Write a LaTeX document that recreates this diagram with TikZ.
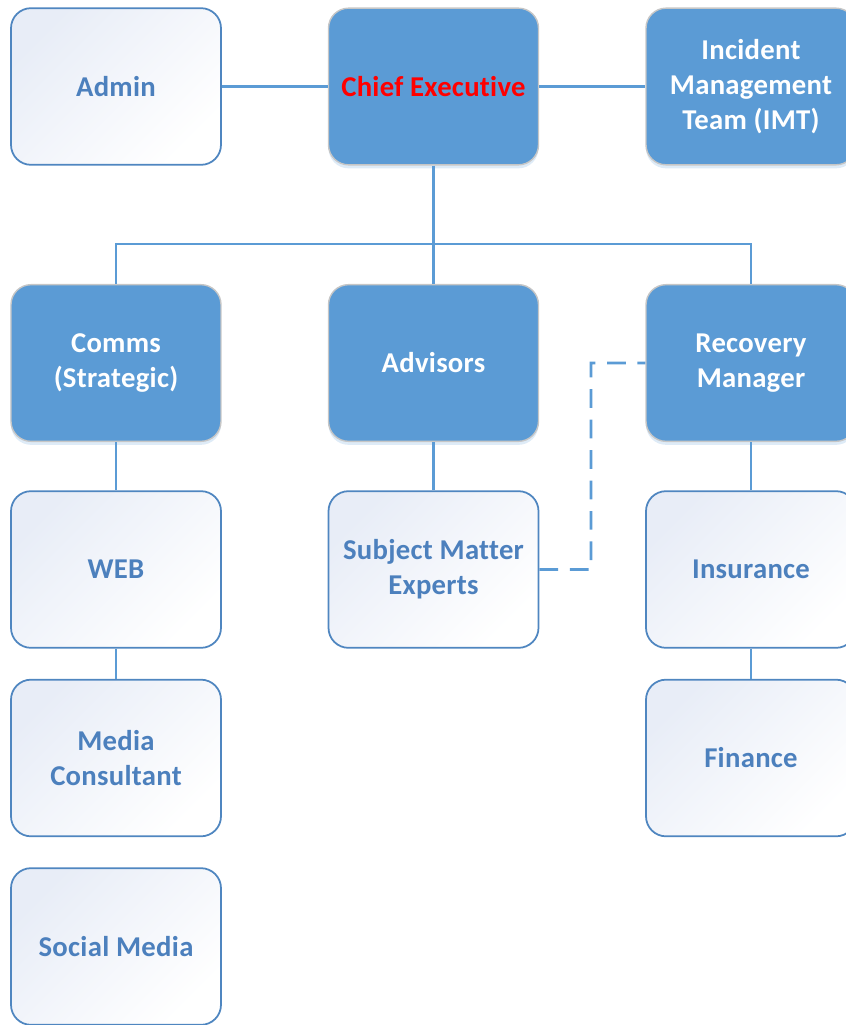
\documentclass[tikz,border=0pt]{standalone}
\usepackage{fontspec}
\setmainfont[Ligatures=NoCommon, LetterSpace=1]{Carlito}
\usepackage{tikz}
\usetikzlibrary{calc, shadows}
\definecolor{boxblue}{RGB}{91,155,213}
\definecolor{edgeblue}{RGB}{79,134,192}
\definecolor{textblue}{RGB}{76,128,189}
\definecolor{tintblue}{RGB}{232,237,247}
\newcommand{\boxfont}{\fontsize{24.5pt}{30pt}\selectfont\bfseries}
\tikzstyle{dark} = [rectangle, rounded corners=0.6cm, minimum width=6.3cm, minimum height=4.7cm, text centered, align=center, draw=gray!45, line width=1.2pt, fill=boxblue, text=white, font=\boxfont, drop shadow={shadow xshift=0pt, shadow yshift=-3pt, fill=boxblue!50, opacity=0.4}]
\tikzstyle{light} = [rectangle, rounded corners=0.6cm, minimum width=6.3cm, minimum height=4.7cm, text centered, align=center, draw=edgeblue, line width=1.5pt, top color=tintblue, bottom color=white, shading angle=45, text=textblue, font=\boxfont]
\tikzstyle{line} = [draw=boxblue, line width=2.4pt]
\tikzstyle{dashline} = [draw=boxblue, line width=2.4pt, dash pattern=on 16pt off 10pt]

\begin{document}
\begin{tikzpicture}[node distance=5.655cm]
\useasboundingbox (-13.005,2.595) rectangle (12.375,-28.155);
\node (ceo) [dark, text=red] {Chief Executive};
\node (admin) [light, left of=ceo, xshift=-3.87cm] {Admin};
\node (imt) [dark, right of=ceo, xshift=3.87cm] {Incident\\Management\\Team (IMT)};
\node (advisors) [dark, below of=ceo, yshift=-2.64cm] {Advisors};
\node (comms) [dark, left of=advisors, xshift=-3.87cm] {Comms\\(Strategic)};
\node (recovery) [dark, right of=advisors, xshift=3.87cm] {Recovery\\Manager};
\node (sme) [light, below of=advisors, yshift=-0.54cm] {Subject Matter\\Experts};
\node (web) [light, below of=comms, yshift=-0.54cm] {WEB};
\node (insurance) [light, below of=recovery, yshift=-0.54cm] {Insurance};
\node (media) [light, below of=web] {Media\\Consultant};
\node (finance) [light, below of=insurance] {Finance};
\node (social) [light, below of=media] {Social Media};
\coordinate (bus) at (0,-4.725);
\coordinate (elbow) at (4.725,-14.49);

\draw [line] (admin) -- (ceo);
\draw [line] (ceo) -- (imt);
\draw [line] (ceo) -- (advisors);
\draw [line] (comms) |- (bus) -| (recovery);
\draw [line] (comms) -- (web);
\draw [line] (web) -- (media);
\draw [line] (advisors) -- (sme);
\draw [line] (recovery) -- (insurance);
\draw [line] (insurance) -- (finance);
\draw [dashline] (sme) -- (elbow) |- (recovery.west);
\end{tikzpicture}
\end{document}
